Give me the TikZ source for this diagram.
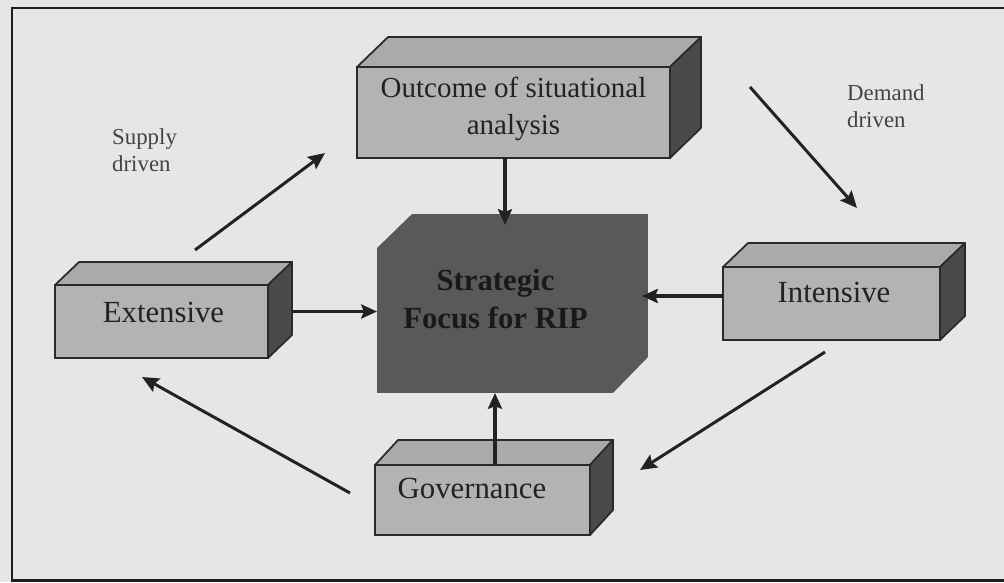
\documentclass[tikz,border=0pt]{standalone}
\usepackage{fontspec}
\setmainfont{Liberation Serif}
\usetikzlibrary{calc,arrows.meta}

\definecolor{bgcol}{HTML}{E6E6E6}
\definecolor{framecol}{HTML}{1E1E1E}
\definecolor{frontcol}{HTML}{B3B3B3}
\definecolor{topcol}{HTML}{AAAAAA}
\definecolor{sidecol}{HTML}{4A4A4A}
\definecolor{edgecol}{HTML}{2A2A2A}
\definecolor{stratcol}{HTML}{595959}
\definecolor{inkcol}{HTML}{222222}

% top and right faces of a cuboid whose front face is node #1, depth (#2,#3)
\newcommand{\boxfaces}[3]{%
  \filldraw[topface] (#1.north west) -- ++(#2,#3) -- ($(#1.north east)+(#2,#3)$) -- (#1.north east) -- cycle;
  \filldraw[sideface] (#1.north east) -- ++(#2,#3) -- ($(#1.south east)+(#2,#3)$) -- (#1.south east) -- cycle;
}

\begin{document}
\begin{tikzpicture}[x=0.02cm,y=-0.02cm,
  frontface/.style={draw=edgecol,fill=frontcol,line width=1pt,inner sep=0pt,outer sep=0pt},
  topface/.style={draw=edgecol,fill=topcol,line width=1pt,line join=round},
  sideface/.style={draw=edgecol,fill=sidecol,line width=1pt,line join=round},
  boxtext/.style={font=\fontsize{17.5}{21}\selectfont,text=inkcol,align=center},
  sidetext/.style={font=\fontsize{13}{15.4}\selectfont,text=inkcol!85,align=left},
  conn/.style={draw=inkcol,line width=2pt,-{Stealth[length=9pt,width=8pt,inset=1.5pt]}},
  diag/.style={draw=inkcol,line width=1.7pt,-{Stealth[length=9.5pt,width=8.5pt,inset=1.5pt]}}
]
\useasboundingbox (0,0) rectangle (1004,582);
\fill[bgcol] (0,0) rectangle (1004,582);
\draw[framecol,line width=1.7pt] (1004,8) -- (12,8) -- (12,580) -- (1004,580);

% central focus block
\node[minimum width=5.42cm,minimum height=3.58cm,inner sep=0pt,outer sep=0pt]
  (strat) at (512.5,303.5) {};
\fill[stratcol] ([yshift=-0.68cm]strat.north west) -- ([xshift=0.7cm]strat.north west)
  -- (strat.north east) -- ([yshift=0.72cm]strat.south east)
  -- ([xshift=-0.7cm]strat.south east) -- (strat.south west) -- cycle;
\node[boxtext,font=\fontsize{17.5}{21.6}\selectfont\bfseries,text=black!90] (strattext)
  at ([xshift=-0.34cm,yshift=0.09cm]strat.center) {Strategic\\Focus for RIP};

% surrounding cuboids
\node[frontface,minimum width=6.26cm,minimum height=1.82cm,
  label={[boxtext,font=\fontsize{16.5}{21}\selectfont,yshift=0.08cm]center:Outcome of situational\\analysis}]
  (outc) at (513.5,112.5) {};
\boxfaces{outc}{31}{-30}

\node[frontface,minimum width=4.26cm,minimum height=1.46cm,
  label={[boxtext,xshift=0.04cm,yshift=0.19cm]center:Extensive}]
  (ext) at (161.5,321.5) {};
\boxfaces{ext}{24}{-23}

\node[frontface,minimum width=4.34cm,minimum height=1.46cm,
  label={[boxtext,xshift=0.05cm,yshift=0.22cm]center:Intensive}]
  (int) at (831.5,303.5) {};
\boxfaces{int}{25}{-24}

\node[frontface,minimum width=4.3cm,minimum height=1.4cm,
  label={[boxtext,xshift=-0.21cm,yshift=0.24cm]center:Governance}]
  (gov) at (482.5,500) {};
\boxfaces{gov}{23}{-25}

% side captions
\node[sidetext,anchor=west] (supply) at (106,150) {Supply\\driven};
\node[sidetext,anchor=west] (demand) at (841,106) {Demand\\driven};

% connectors into the focus block
\draw[conn,shorten >=-0.22cm] ([xshift=-0.17cm]outc.south) coordinate (o1) -- (o1 |- strat.north);
\draw[conn] ([xshift=0.48cm,yshift=0.2cm]ext.east) coordinate (e1) -- (e1 -| strat.west);
\draw[conn,shorten >=-0.12cm] ([yshift=0.15cm]int.west) coordinate (i1) -- (i1 -| strat.east);
\draw[conn] ([xshift=0.25cm]gov.north) coordinate (g1) -- (g1 |- strat.south);

% cycle of diagonal arrows
\coordinate (supA) at (195,250);
\coordinate (supB) at (325,153);
\coordinate (demA) at (750,87);
\coordinate (demB) at (857,208);
\coordinate (intA) at (825,352);
\coordinate (intB) at (640,470);
\coordinate (govA) at (350,493);
\coordinate (govB) at (142,377);
\draw[diag] (supA) -- (supB);
\draw[diag] (demA) -- (demB);
\draw[diag] (intA) -- (intB);
\draw[diag] (govA) -- (govB);
\end{tikzpicture}
\end{document}
